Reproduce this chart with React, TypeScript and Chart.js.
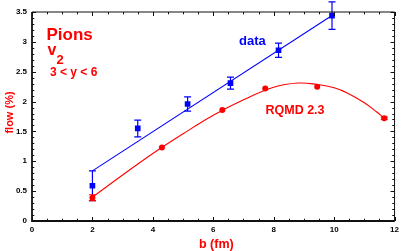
import React, { useEffect, useRef } from "react";
import { Chart, registerables } from "chart.js";

Chart.register(...registerables);

// Measured data (blue squares)
const dataB = [2, 3.5, 5.15, 6.57, 8.16, 9.93];
const dataFlow = [0.59, 1.55, 1.96, 2.31, 2.86, 3.44];
const dataErr = [0.25, 0.14, 0.12, 0.1, 0.12, 0.23];

// RQMD 2.3 points (red)
const rqmdB = [2, 4.3, 6.3, 7.72, 9.44, 11.66];
const rqmdFlow = [0.39, 1.23, 1.86, 2.22, 2.25, 1.72];
const rqmdErr = [0.05, 0, 0, 0, 0, 0.02];

// Linear fit to data (blue line)
const fitB = [2, 9.93];
const fitFlow = [0.84, 3.44];

// Smooth curve through RQMD (red line)
const curveB = [2, 3, 4, 5, 6, 7, 8, 8.8, 9.4, 10, 10.45, 11, 11.4, 11.66];
const curveFlow = [0.4, 0.77, 1.13, 1.46, 1.77, 2.03, 2.24, 2.31, 2.29, 2.23, 2.14, 1.98, 1.83, 1.72];

// Axes
const xMin = 0, xMax = 12, xStep = 2, xMinor = 0.5;
const yMin = 0, yMax = 3.5, yStep = 0.5, yMinor = 0.1;

const BLUE = "#0000ff";
const RED = "#ff0000";
const FONT = "'Liberation Sans', Arial, Helvetica, sans-serif";

const pts = (xs: number[], ys: number[]) => xs.map((x, i) => ({ x, y: ys[i] }));

const errorBarPlugin = {
  id: "errorBars",
  afterDatasetsDraw(chart: any) {
    const ctx = chart.ctx;
    const xs = chart.scales.x;
    const ys = chart.scales.y;
    const sets = [
      { xv: dataB, yv: dataFlow, ev: dataErr, color: BLUE },
      { xv: rqmdB, yv: rqmdFlow, ev: rqmdErr, color: RED },
    ];
    ctx.save();
    ctx.lineWidth = 1.2;
    for (const s of sets) {
      ctx.strokeStyle = s.color;
      s.xv.forEach((x, i) => {
        const e = s.ev[i];
        if (!e) return;
        const px = xs.getPixelForValue(x);
        const top = ys.getPixelForValue(s.yv[i] + e);
        const bot = ys.getPixelForValue(s.yv[i] - e);
        ctx.beginPath();
        ctx.moveTo(px, top);
        ctx.lineTo(px, bot);
        ctx.moveTo(px - 3.5, top);
        ctx.lineTo(px + 3.5, top);
        ctx.moveTo(px - 3.5, bot);
        ctx.lineTo(px + 3.5, bot);
        ctx.stroke();
      });
    }
    ctx.restore();
  },
};

const framePlugin = {
  id: "frame",
  afterDraw(chart: any) {
    const ctx = chart.ctx;
    const { left, right, top, bottom } = chart.chartArea;
    const xs = chart.scales.x;
    const ys = chart.scales.y;
    ctx.save();
    ctx.strokeStyle = "#111";
    ctx.lineWidth = 1;
    ctx.beginPath();
    for (let v = xMin; v <= xMax + 1e-9; v += xMinor) {
      const major = Math.abs(v / xStep - Math.round(v / xStep)) < 1e-6;
      const len = major ? 4 : 2.3;
      const px = Math.round(xs.getPixelForValue(v)) + 0.5;
      ctx.moveTo(px, bottom);
      ctx.lineTo(px, bottom - len);
      ctx.moveTo(px, top);
      ctx.lineTo(px, top + len);
    }
    for (let v = yMin; v <= yMax + 1e-9; v += yMinor) {
      const major = Math.abs(v / yStep - Math.round(v / yStep)) < 1e-6;
      const len = major ? 4 : 2.3;
      const py = Math.round(ys.getPixelForValue(v)) + 0.5;
      ctx.moveTo(left, py);
      ctx.lineTo(left + len, py);
      ctx.moveTo(right, py);
      ctx.lineTo(right - len, py);
    }
    ctx.stroke();
    ctx.lineWidth = 1;
    ctx.beginPath();
    ctx.moveTo(left, top);
    ctx.lineTo(right, top);
    ctx.lineTo(right, bottom);
    ctx.stroke();
    ctx.lineWidth = 1.8;
    ctx.beginPath();
    ctx.moveTo(left, top);
    ctx.lineTo(left, bottom);
    ctx.lineTo(right, bottom);
    ctx.stroke();

    ctx.textAlign = "left";
    ctx.textBaseline = "alphabetic";
    ctx.fillStyle = RED;
    ctx.font = `bold 17px ${FONT}`;
    ctx.fillText("Pions", 46.5, 39.5);
    ctx.font = `bold 16px ${FONT}`;
    ctx.fillText("v", 47.5, 55);
    ctx.font = `bold 13px ${FONT}`;
    ctx.fillText("2", 56.5, 63.5);
    ctx.font = `bold 12px ${FONT}`;
    ctx.fillText("3 < y < 6", 50, 76);
    ctx.font = `bold 12.5px ${FONT}`;
    ctx.fillText("RQMD 2.3", 265.5, 113.5);
    ctx.fillStyle = BLUE;
    ctx.font = `bold 13px ${FONT}`;
    ctx.fillText("data", 239, 45);

    ctx.fillStyle = RED;
    ctx.font = `bold 12.5px ${FONT}`;
    ctx.textAlign = "left";
    ctx.fillText("b (fm)", 199, 248);
    ctx.save();
    ctx.translate(12.5, 112.5);
    ctx.rotate(-Math.PI / 2);
    ctx.textAlign = "center";
    ctx.font = `bold 11px ${FONT}`;
    ctx.fillText("flow (%)", 0, 0);
    ctx.restore();
    ctx.restore();
  },
};

export default function App() {
  const ref = useRef<HTMLCanvasElement | null>(null);
  useEffect(() => {
    document.body.style.margin = "0";
    const canvas = ref.current;
    if (!canvas) return;
    const chart = new Chart(canvas, {
      type: "scatter",
      data: {
        datasets: [
          {
            label: "data",
            data: pts(dataB, dataFlow),
            pointStyle: "rect",
            pointRadius: 4,
            backgroundColor: BLUE,
            borderColor: BLUE,
            borderWidth: 0,
            order: 0,
          },
          {
            label: "RQMD 2.3",
            data: pts(rqmdB, rqmdFlow),
            pointStyle: "circle",
            pointRadius: 3,
            backgroundColor: RED,
            borderColor: RED,
            borderWidth: 0,
            order: 0,
          },
          {
            label: "fit",
            data: pts(fitB, fitFlow),
            showLine: true,
            pointRadius: 0,
            borderColor: BLUE,
            borderWidth: 1.1,
            order: 1,
          },
          {
            label: "RQMD curve",
            data: pts(curveB, curveFlow),
            showLine: true,
            tension: 0.4,
            pointRadius: 0,
            borderColor: RED,
            borderWidth: 1.1,
            order: 1,
          },
        ] as any,
      },
      options: {
        animation: false,
        responsive: false,
        devicePixelRatio: 1,
        layout: { padding: { top: 12, right: 5, left: 0, bottom: 0 } },
        plugins: { legend: { display: false }, tooltip: { enabled: false } },
        scales: {
          x: {
            type: "linear",
            min: xMin,
            max: xMax,
            grid: { display: false, drawTicks: false },
            border: { display: false },
            ticks: {
              stepSize: xStep,
              autoSkip: false,
              maxRotation: 0,
              padding: 4,
              color: "#000",
              font: { family: FONT, size: 8, weight: "bold" },
              callback: (v: any) => String(v),
            },
            afterFit: (s: any) => {
              s.height = 30;
            },
          },
          y: {
            type: "linear",
            min: yMin,
            max: yMax,
            grid: { display: false, drawTicks: false },
            border: { display: false },
            ticks: {
              stepSize: yStep,
              padding: 5,
              color: "#000",
              font: { family: FONT, size: 8, weight: "bold" },
              callback: (v: any) => String(v),
            },
            afterFit: (s: any) => {
              s.width = 32;
            },
          },
        },
      } as any,
      plugins: [errorBarPlugin, framePlugin],
    });
    return () => chart.destroy();
  }, []);
  return (
    <div style={{ position: "absolute", left: 0, top: 0 }}>
      <canvas ref={ref} width={403} height={251} style={{ display: "block" }} />
    </div>
  );
}
